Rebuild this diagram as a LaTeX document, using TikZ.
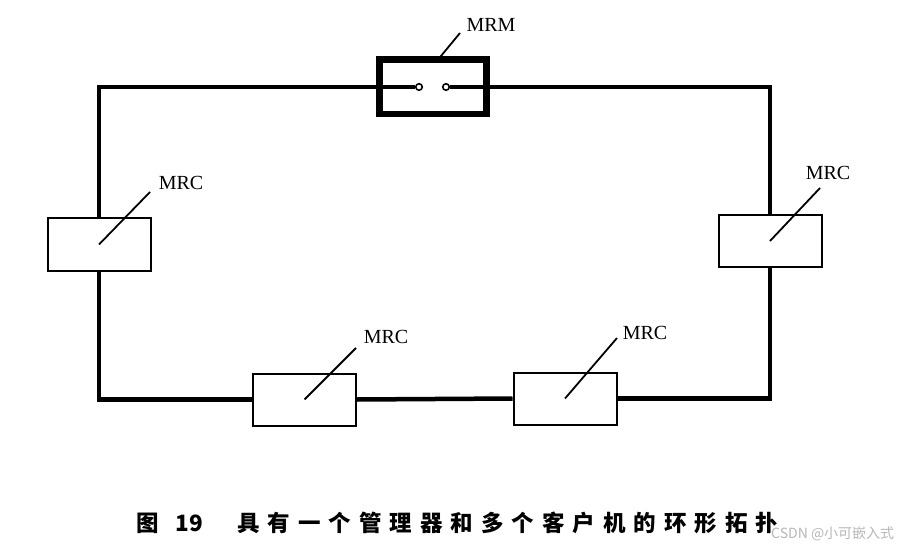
\documentclass[tikz,border=0pt]{standalone}
\usepackage{fontspec}
\setmainfont{Liberation Serif}
\newfontfamily\capfont{Noto Sans CJK SC}
\newfontfamily\wmfont{Noto Sans CJK SC}
\newcommand{\capgap}{\hspace{8pt}}
\begin{document}
\begin{tikzpicture}[x=1pt,y=-1pt,
  ring/.style={line width=4.5pt,line cap=butt},
  mrcbox/.style={draw,fill=white,line width=2pt,minimum width=103pt,minimum height=52pt,inner sep=0pt},
  mrmbox/.style={draw,fill=white,line width=4.5pt,minimum width=105pt,minimum height=52pt,inner sep=0pt},
  port/.style={circle,draw,fill=white,line width=1.6pt,minimum size=6.5pt,inner sep=0pt},
  leader/.style={line width=1.8pt},
  lbl/.style={font=\fontsize{20}{22}\selectfont,inner sep=0pt}]
\useasboundingbox (0,0) rectangle (901,553);
\fill[white] (0,0) rectangle (901,553);

% boxes
\node[mrmbox] (mrm) at (433,87) {};
\node[mrcbox] (c1) at (99,244.5) {};
\node[mrcbox] (c2) at (770,241) {};
\node[mrcbox] (c3) at (304.5,399.5) {};
\node[mrcbox] (c4) at (565,398.5) {};

% ring
\draw[ring] (mrm.west) -| (c1.north);
\draw[ring] (c1.south) |- (c3.west);
\draw[ring] (c3.east) -- (c4.west);
\draw[ring] (c4.east) -| (c2.south);
\draw[ring] (c2.north) |- (mrm.east);

% MRM inner ports
\node[port] (p1) at (419,87) {};
\node[port] (p2) at (446,87) {};
\draw[ring,line width=4pt] (mrm.west) -- (p1.west);
\draw[ring,line width=4pt] (p2.east) -- (mrm.east);
\draw[line width=4.5pt] (mrm.north west) rectangle (mrm.south east);

% labels
\node[lbl] (lm) at (491,25) {MRM};
\node[lbl] (l1) at (181,183) {MRC};
\node[lbl] (l2) at (828,173) {MRC};
\node[lbl] (l3) at (386,337) {MRC};
\node[lbl] (l4) at (645,333) {MRC};

% leader ends
\coordinate (em) at (460,33);
\coordinate (e1) at (150,192);
\coordinate (e2) at (820,188);
\coordinate (e3) at (356,348);
\coordinate (e4) at (617,338);
\coordinate (sm) at (436,62);

\draw[leader] (sm) -- (em);
\draw[leader] (c1.center) -- (e1);
\draw[leader] (c2.center) -- (e2);
\draw[leader] (c3.center) -- (e3);
\draw[leader] (c4.center) -- (e4);

% caption
\node[anchor=west,inner sep=0pt,font=\capfont\bfseries\fontsize{22.5}{25}\selectfont] (cap) at (136,523)
  {图\hspace{17pt}19\hspace{34pt}具\capgap{}有\capgap{}一\capgap{}个\capgap{}管\capgap{}理\capgap{}器\capgap{}和\capgap{}多\capgap{}个\capgap{}客\capgap{}户\capgap{}机\capgap{}的\capgap{}环\capgap{}形\capgap{}拓\capgap{}扑};
\node[anchor=west,inner sep=0pt,text=black!28,font=\wmfont\fontsize{14}{16}\selectfont] (wm) at (771,534) {CSDN @小可嵌入式};
\end{tikzpicture}
\end{document}
